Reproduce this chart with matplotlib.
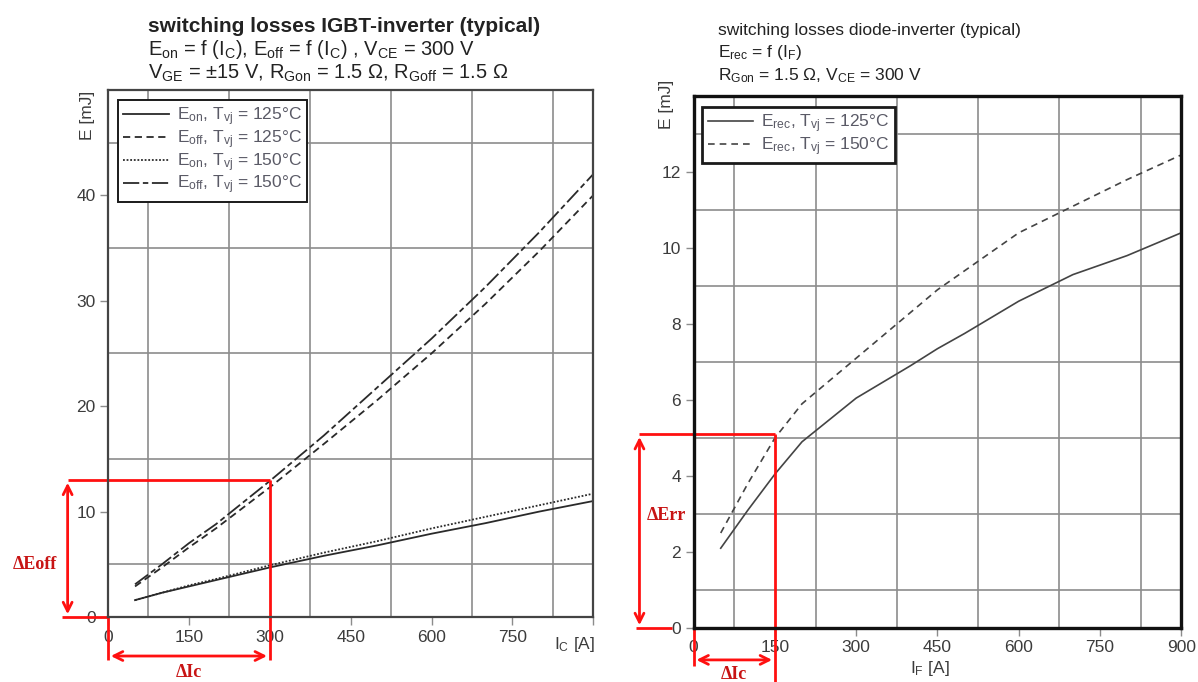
import numpy as np
import matplotlib
matplotlib.use("Agg")
import matplotlib.pyplot as plt

# --------------------------------------------
# dados lidos do datasheet

# IGBT: E = f(Ic)
ic = [50, 100, 150, 200, 300, 400, 500, 600, 700, 800, 900]
eon_125 = [1.6, 2.3, 2.9, 3.5, 4.7, 5.8, 6.8, 7.9, 8.9, 10.0, 11.0]
eoff_125 = [2.9, 4.7, 6.6, 8.4, 12.3, 16.4, 20.6, 25.0, 29.7, 34.7, 40.0]
eon_150 = [1.6, 2.3, 3.0, 3.6, 4.9, 6.1, 7.2, 8.4, 9.5, 10.6, 11.7]
eoff_150 = [3.1, 5.0, 7.0, 8.8, 12.9, 17.2, 21.8, 26.4, 31.3, 36.5, 42.0]

# diodo: Erec = f(If)
i_f = [50, 100, 150, 200, 300, 400, 450, 500, 600, 700, 800, 900]
erec_125 = [2.1, 3.1, 4.05, 4.9, 6.05, 6.9, 7.35, 7.75, 8.6, 9.3, 9.8, 10.4]
erec_150 = [2.5, 3.8, 5.0, 5.9, 7.1, 8.3, 8.9, 9.4, 10.4, 11.1, 11.8, 12.45]

# anotacoes em vermelho
dIc_igbt = 300
dEoff = 13.0
dIf_diode = 150
dErr = 5.1

xticks = [0, 150, 300, 450, 600, 750, 900]

# --------------------------------------------
# configura graficos
plt.rcParams['font.family'] = ['Liberation Sans', 'DejaVu Sans']
plt.rcParams['mathtext.fontset'] = 'custom'
plt.rcParams['mathtext.rm'] = 'Liberation Sans'
plt.rcParams['mathtext.it'] = 'Liberation Sans:italic'
plt.rcParams['mathtext.bf'] = 'Liberation Sans:bold'

fig = plt.figure(figsize=(11.98, 6.82), dpi=100)
axL = fig.add_axes([0.0902, 0.0953, 0.405, 0.773])
axR = fig.add_axes([0.579, 0.0792, 0.407, 0.780])

lc = '#2a2a2a'
tc = '#3c3c3c'
gc = '#8c8c8c'
red = '#ff1010'
dred = '#c81414'
lw = 1.3


def style(ax, ymax, ystep, ylabels, frame_w, frame_c):
    ax.set_xlim(0, 900)
    ax.set_ylim(0, ymax)
    ax.set_xticks(np.arange(0, 901, 75), minor=True)
    ax.set_yticks(np.arange(0, ymax + 0.01, ystep), minor=True)
    ax.grid(which='minor', color=gc, lw=1.2)
    ax.tick_params(which='minor', length=0)
    ax.tick_params(which='major', length=6, width=1.0, color=gc,
                   labelsize=12.5, labelcolor=tc, pad=3)
    ax.set_yticks(ylabels)
    for s in ax.spines.values():
        s.set_linewidth(frame_w)
        s.set_color(frame_c)
    ax.set_axisbelow(True)


def legenda(ax, anchor, edge_w):
    leg = ax.legend(loc='upper left', bbox_to_anchor=anchor, fontsize=12.5, handlelength=2.6,
                    labelspacing=0.02, borderpad=0.3, handletextpad=0.5, borderaxespad=0,
                    fancybox=False, framealpha=1)
    leg.get_frame().set_edgecolor('#1a1a1a')
    leg.get_frame().set_linewidth(edge_w)
    for t in leg.get_texts():
        t.set_color('#5a5a66')
    return leg


# --------------------------------------------
# IGBT
axL.plot(ic, eon_125, color=lc, lw=lw, ls='-', label=r'E$_\mathrm{on}$, T$_\mathrm{vj}$ = 125°C')
axL.plot(ic, eoff_125, color=lc, lw=lw, ls=(0, (4, 2.5)), label=r'E$_\mathrm{off}$, T$_\mathrm{vj}$ = 125°C')
axL.plot(ic, eon_150, color=lc, lw=lw, ls=(0, (1, 1)), label=r'E$_\mathrm{on}$, T$_\mathrm{vj}$ = 150°C')
axL.plot(ic, eoff_150, color=lc, lw=lw, ls=(0, (9, 2, 3, 2)), label=r'E$_\mathrm{off}$, T$_\mathrm{vj}$ = 150°C')

style(axL, 50, 5, [0, 10, 20, 30, 40], 1.6, '#444444')
axL.set_xticks(xticks)
axL.set_xticklabels(['0', '150', '300', '450', '600', '750', ''])
axL.text(0.962, -0.035, r'I$_\mathrm{C}$ [A]', transform=axL.transAxes, ha='center', va='top',
         fontsize=12.5, color=tc)
axL.text(-0.042, 0.952, 'E [mJ]', transform=axL.transAxes, rotation=90, ha='center', va='center',
         fontsize=12.5, color=tc)

legenda(axL, (0.021, 0.981), 1.4)

# anotacoes IGBT
rk = dict(color=red, lw=2.0, clip_on=False, solid_capstyle='butt')
axL.plot([-75, dIc_igbt], [dEoff, dEoff], **rk)
axL.plot([dIc_igbt, dIc_igbt], [dEoff, -4.1], **rk)
axL.plot([-85, 0], [0, 0], **rk)
axL.plot([0, 0], [0, -4.1], **rk)
axL.annotate('', xy=(-75, 0), xytext=(-75, dEoff), annotation_clip=False,
             arrowprops=dict(arrowstyle='<->', color=red, lw=2.0, mutation_scale=16))
axL.annotate('', xy=(0, -3.7), xytext=(dIc_igbt, -3.7), annotation_clip=False,
             arrowprops=dict(arrowstyle='<->', color=red, lw=2.0, mutation_scale=16))
axL.text(-135, 5.0, 'ΔEoff', color=dred, fontsize=13, fontweight='bold', family='Liberation Serif',
         ha='center', va='center', clip_on=False)
axL.text(dIc_igbt / 2, -5.3, 'ΔIc', color=dred, fontsize=13, fontweight='bold', family='Liberation Serif',
         ha='center', va='center', clip_on=False)

# --------------------------------------------
# diodo
axR.plot(i_f, erec_125, color='#444444', lw=1.2, ls='-', label=r'E$_\mathrm{rec}$, T$_\mathrm{vj}$ = 125°C')
axR.plot(i_f, erec_150, color='#444444', lw=1.2, ls=(0, (4, 3)), label=r'E$_\mathrm{rec}$, T$_\mathrm{vj}$ = 150°C')

style(axR, 14, 1, [0, 2, 4, 6, 8, 10, 12], 2.4, '#111111')
axR.set_xticks(xticks)
axR.text(0.485, -0.076, r'I$_\mathrm{F}$ [A]', transform=axR.transAxes, ha='center', va='center',
         fontsize=12.5, color=tc)
axR.text(-0.055, 0.985, 'E [mJ]', transform=axR.transAxes, rotation=90, ha='center', va='center',
         fontsize=12.5, color=tc)

legenda(axR, (0.018, 0.979), 2.0)

# anotacoes diodo
axR.plot([-100, dIf_diode], [dErr, dErr], **rk)
axR.plot([dIf_diode, dIf_diode], [dErr, -1.45], **rk)
axR.plot([-107, -40], [0, 0], **rk)
axR.plot([0, 0], [0, -1.0], **rk)
axR.annotate('', xy=(-100, 0), xytext=(-100, dErr), annotation_clip=False,
             arrowprops=dict(arrowstyle='<->', color=red, lw=2.0, mutation_scale=16))
axR.annotate('', xy=(0, -0.84), xytext=(dIf_diode, -0.84), annotation_clip=False,
             arrowprops=dict(arrowstyle='<->', color=red, lw=2.0, mutation_scale=16))
axR.text(-50, 2.95, 'ΔErr', color=dred, fontsize=13, fontweight='bold', family='Liberation Serif',
         ha='center', va='center', clip_on=False)
axR.text(dIf_diode / 2, -1.22, 'ΔIc', color=dred, fontsize=13, fontweight='bold', family='Liberation Serif',
         ha='center', va='center', clip_on=False)

# --------------------------------------------
# titulos
tk = dict(fontsize=14.5, color='#222222', va='baseline', ha='left')
fig.text(0.1235, 0.9530, 'switching losses IGBT-inverter (typical)', fontweight='bold',
         fontsize=15, color='#222222', va='baseline', ha='left')
fig.text(0.1235, 0.919, r'E$_\mathrm{on}$ = f (I$_\mathrm{C}$), E$_\mathrm{off}$ = f (I$_\mathrm{C}$) , V$_\mathrm{CE}$ = 300 V', **tk)
fig.text(0.1235, 0.885, r'V$_\mathrm{GE}$ = ±15 V, R$_\mathrm{Gon}$ = 1.5 Ω, R$_\mathrm{Goff}$ = 1.5 Ω', **tk)

tk2 = dict(fontsize=12.5, color='#222222', va='baseline', ha='left')
fig.text(0.5995, 0.9487, 'switching losses diode-inverter (typical)', **tk2)
fig.text(0.5995, 0.9164, r'E$_\mathrm{rec}$ = f (I$_\mathrm{F}$)', **tk2)
fig.text(0.5995, 0.8827, r'R$_\mathrm{Gon}$ = 1.5 Ω, V$_\mathrm{CE}$ = 300 V', **tk2)

fig.savefig('out.png', dpi=100)
